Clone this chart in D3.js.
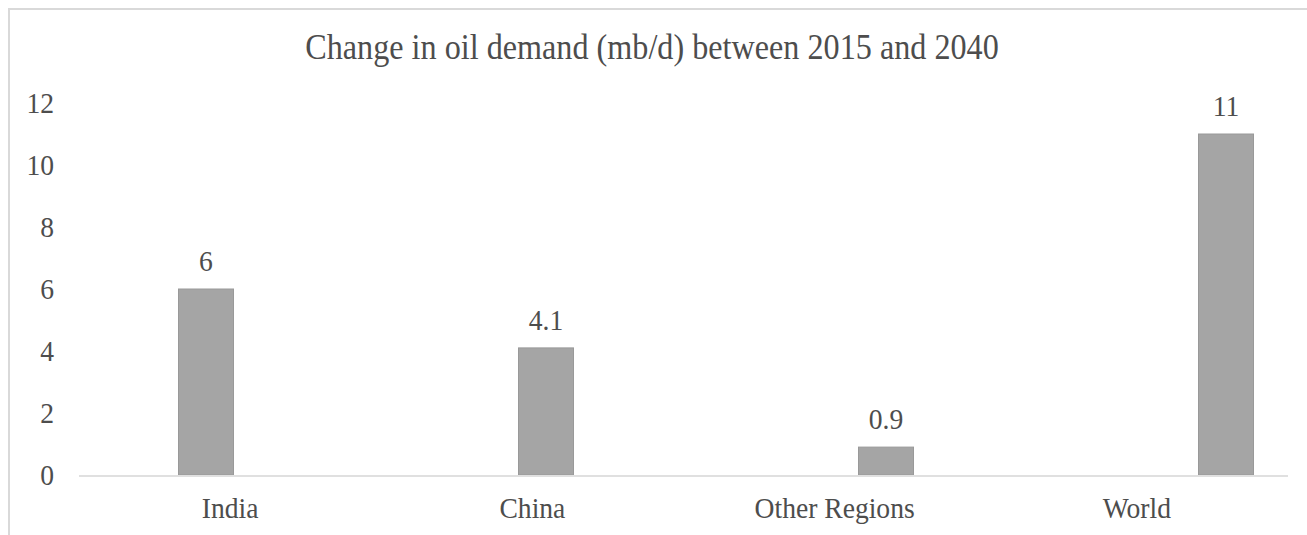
<!DOCTYPE html>
<html>
<head>
<meta charset="utf-8">
<script src="https://cdn.jsdelivr.net/npm/d3@7"></script>
<style>
  body { margin: 0; background: #fff; }
  #chart { width: 1307px; height: 535px; }
  text { font-family: "Liberation Serif", "Times New Roman", serif; fill: #4d4d4d; }
</style>
</head>
<body>
<div id="chart"></div>
<script>
// chart data
const categories = ["India", "China", "Other Regions", "World"];
const demandChange = [6, 4.1, 0.9, 11];
const valueLabels = ["6", "4.1", "0.9", "11"];
const yTicks = [0, 2, 4, 6, 8, 10, 12];
const chartTitle = "Change in oil demand (mb/d) between 2015 and 2040";

(function () {
  "use strict";

  const width = 1307;
  const height = 535;
  // the original text is a bit narrow for its height
  const squeeze = "scale(0.92,1)";

  const svg = d3
    .select("#chart")
    .append("svg")
    .attr("width", width)
    .attr("height", height);

  // outer frame of the chart (runs off the right and bottom edge)
  svg
    .append("rect")
    .attr("x", 9)
    .attr("y", 9)
    .attr("width", width + 20)
    .attr("height", height + 20)
    .attr("fill", "#fff")
    .attr("stroke", "#d9d9d9")
    .attr("stroke-width", 2);

  const plot = { left: 79, right: 1288, top: 103, bottom: 475 };

  // scales
  const x = d3
    .scaleBand()
    .domain(categories)
    .range([plot.left, plot.right]);

  // bars sit a little off the category centres in the original
  const xBar = d3
    .scalePoint()
    .domain(categories)
    .range([206, 1226]);

  const y = d3.scaleLinear().domain([0, 12]).range([plot.bottom, plot.top]);

  const barWidth = 55;

  // title
  svg
    .append("text")
    .attr("transform", `translate(652,59) ${squeeze}`)
    .attr("text-anchor", "middle")
    .style("font-size", "35px")
    .text(chartTitle);

  // y tick labels
  svg
    .append("g")
    .selectAll("text")
    .data(yTicks)
    .join("text")
    .attr("transform", (d) => `translate(54,${y(d)}) ${squeeze}`)
    .attr("dy", "0.33em")
    .attr("text-anchor", "end")
    .style("font-size", "30px")
    .text((d) => d);

  // bars
  svg
    .append("g")
    .selectAll("rect")
    .data(demandChange)
    .join("rect")
    .attr("x", (d, i) => xBar(categories[i]) - barWidth / 2)
    .attr("y", (d) => y(d))
    .attr("width", barWidth)
    .attr("height", (d) => y(0) - y(d))
    .attr("fill", "#a5a5a5")
    .attr("stroke", "#999")
    .attr("stroke-width", 1);

  // baseline
  svg
    .append("line")
    .attr("x1", plot.left)
    .attr("x2", plot.right)
    .attr("y1", y(0) + 1)
    .attr("y2", y(0) + 1)
    .attr("stroke", "#e0e0e0")
    .attr("stroke-width", 2);

  // value labels
  svg
    .append("g")
    .selectAll("text")
    .data(demandChange)
    .join("text")
    .attr("transform", (d, i) => `translate(${xBar(categories[i])},${y(d) - 18}) ${squeeze}`)
    .attr("text-anchor", "middle")
    .style("font-size", "30px")
    .text((d, i) => valueLabels[i]);

  // category labels
  svg
    .append("g")
    .selectAll("text")
    .data(categories)
    .join("text")
    .attr("transform", (d) => `translate(${x(d) + x.bandwidth() / 2},518) ${squeeze}`)
    .attr("text-anchor", "middle")
    .style("font-size", "30px")
    .text((d) => d);
})();
</script>
</body>
</html>
